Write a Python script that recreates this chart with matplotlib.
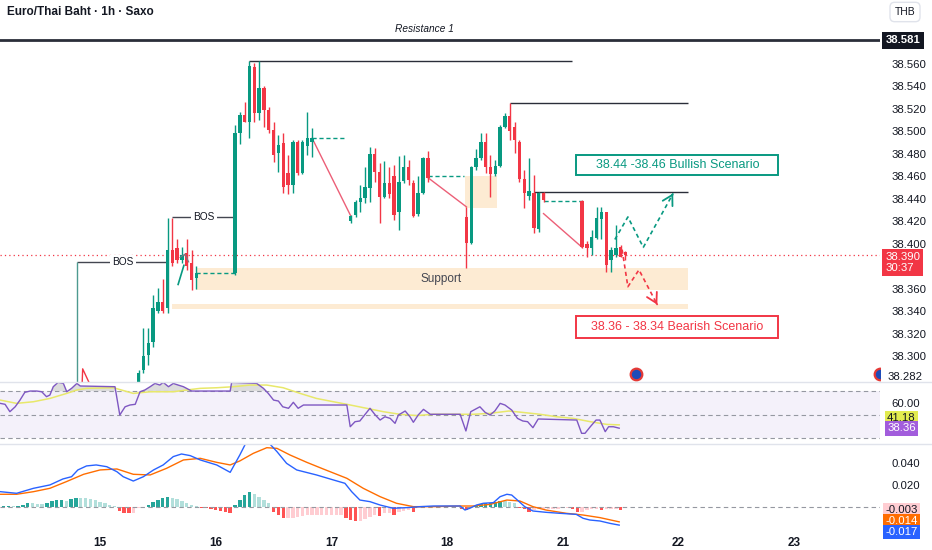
import numpy as np
import matplotlib.pyplot as plt
from matplotlib.patches import Rectangle

plt.rcParams['font.family'] = ['Liberation Sans', 'DejaVu Sans']

# hourly candles (x = trading hours since the 15th 00:00)
bar_idx = [8, 9, 10, 11, 12, 13, 14, 15, 16, 17, 18, 19, 20,
           28, 29, 30, 31, 32, 33, 34, 35, 36, 37, 38, 39, 40, 41, 42, 43, 44,
           52, 53, 54, 55, 56, 57, 58, 59, 60, 61, 62, 63, 64, 65, 66, 67, 68,
           76, 77, 78, 79, 80, 81, 82, 83, 84, 85, 86, 87, 88, 89, 90, 91, 92,
           100, 101, 102, 103, 104, 105, 106, 107, 108, 109]
opens = [38.277, 38.288, 38.301, 38.313, 38.340, 38.348, 38.343, 38.395, 38.396, 38.386, 38.392, 38.383, 38.370,
         38.374, 38.499, 38.515, 38.508, 38.557, 38.516, 38.539, 38.519, 38.501, 38.481, 38.490, 38.463, 38.452, 38.491, 38.463, 38.487, 38.491,
         38.420, 38.426, 38.437, 38.441, 38.450, 38.480, 38.464, 38.442, 38.454, 38.460, 38.428, 38.456, 38.468, 38.454, 38.427, 38.445, 38.476,
         38.424, 38.401, 38.468, 38.476, 38.491, 38.468, 38.462, 38.469, 38.504, 38.514, 38.504, 38.491, 38.458, 38.443, 38.445, 38.413, 38.445,
         38.438, 38.400, 38.396, 38.405, 38.422, 38.428, 38.386, 38.390, 38.397, 38.393]
highs = [38.288, 38.325, 38.325, 38.355, 38.361, 38.369, 38.423, 38.423, 38.404, 38.397, 38.404, 38.395, 38.380,
         38.506, 38.517, 38.526, 38.563, 38.561, 38.563, 38.540, 38.522, 38.508, 38.497, 38.499, 38.479, 38.492, 38.492, 38.492, 38.517, 38.503,
         38.426, 38.439, 38.452, 38.468, 38.486, 38.485, 38.472, 38.474, 38.468, 38.470, 38.478, 38.479, 38.475, 38.457, 38.460, 38.477, 38.483,
         38.433, 38.469, 38.484, 38.499, 38.499, 38.479, 38.475, 38.506, 38.516, 38.525, 38.508, 38.492, 38.466, 38.476, 38.461, 38.446, 38.446,
         38.439, 38.403, 38.412, 38.433, 38.433, 38.428, 38.397, 38.417, 38.399, 38.394]
lows = [38.274, 38.285, 38.292, 38.308, 38.339, 38.339, 38.339, 38.380, 38.383, 38.383, 38.377, 38.359, 38.360,
        38.372, 38.489, 38.508, 38.494, 38.508, 38.510, 38.504, 38.499, 38.473, 38.464, 38.445, 38.444, 38.445, 38.461, 38.462, 38.479, 38.477,
        38.419, 38.424, 38.428, 38.436, 38.437, 38.455, 38.419, 38.441, 38.441, 38.421, 38.412, 38.454, 38.452, 38.424, 38.425, 38.444, 38.455,
        38.379, 38.400, 38.466, 38.475, 38.463, 38.442, 38.460, 38.468, 38.503, 38.492, 38.481, 38.455, 38.432, 38.439, 38.410, 38.411, 38.437,
        38.396, 38.388, 38.390, 38.404, 38.404, 38.375, 38.375, 38.388, 38.388, 38.386]
closes = [38.285, 38.300, 38.312, 38.343, 38.348, 38.340, 38.395, 38.383, 38.386, 38.390, 38.380, 38.368, 38.374,
          38.499, 38.515, 38.508, 38.558, 38.516, 38.539, 38.519, 38.501, 38.479, 38.488, 38.451, 38.452, 38.491, 38.463, 38.491, 38.494, 38.494,
          38.425, 38.437, 38.441, 38.451, 38.480, 38.464, 38.442, 38.454, 38.444, 38.426, 38.455, 38.468, 38.457, 38.425, 38.445, 38.476, 38.459,
          38.401, 38.468, 38.476, 38.491, 38.468, 38.462, 38.469, 38.504, 38.514, 38.500, 38.492, 38.458, 38.445, 38.447, 38.414, 38.445, 38.439,
          38.397, 38.396, 38.406, 38.423, 38.428, 38.381, 38.395, 38.396, 38.388, 38.390]

# RSI(14) and its moving average, read at the line vertices
rsi_x = [-20.7, -19.7, -18.7, -17.6, -16.6, -15.6, -14.5, -13.1, -12.1, -11.1, -10.4, -9.7, -8.7, -7.6, -6.9, -5.9,
         -4.8, -4.1, 3.1, 4.1, 5.2, 6.2, 7.3, 8.3, 9.3, 10.4, 11.4, 12.4, 13.1, 14.2, 15.2, 16.2, 17.3, 19.0, 27.0,
         27.3, 32.5, 33.9, 34.9, 36.0, 37.0, 37.9, 39.1, 40.1, 41.1, 42.2, 51.2, 51.9, 52.9, 53.9, 55.0, 56.0, 57.1,
         58.1, 59.1, 60.2, 61.2, 61.9, 63.3, 64.3, 65.0, 66.0, 67.1, 68.5, 74.7, 75.9, 76.9, 78.8, 79.9, 80.9, 81.9,
         83.0, 84.0, 85.4, 86.6, 87.7, 88.7, 89.8, 90.9, 98.9, 99.9, 100.6, 101.7, 102.9, 103.7, 104.8, 105.5,
         106.5, 107.7]
rsi = [59.5, 58.7, 52.4, 56.6, 62.3, 68.9, 70.0, 70.0, 69.4, 65.2, 66.6, 73.7, 77.4, 76.5, 69.4, 72.3,
       76.5, 74.3, 73.7, 49.6, 56.6, 58.1, 58.7, 69.4, 70.9, 73.7, 76.5, 75.1, 77.4, 73.7, 76.5, 75.1, 73.7, 70.0, 70.0,
       77.4, 76.5, 72.3, 68.0, 62.3, 61.5, 56.6, 55.3, 60.4, 55.3, 58.1, 58.1, 39.6, 43.9, 44.5, 50.2, 55.3, 49.6,
       45.3, 48.1, 46.7, 42.5, 49.6, 53.0, 48.1, 43.4, 49.6, 54.4, 50.2, 50.2, 36.0, 52.4, 56.6, 51.8, 49.6, 53.0,
       59.5, 58.1, 53.8, 46.7, 44.5, 43.9, 38.8, 46.2, 45.3, 34.0, 34.0, 39.6, 45.3, 45.3, 35.4, 39.6,
       39.6, 38.36]
rsi_ma_x = [-20.7, -17.3, -13.8, -10.4, -6.9, -4.8, -2.8, 2.8, 6.9, 10.4, 15.2, 18.0, 20.8, 24.2, 27.7, 31.1,
            34.6, 38.0, 41.5, 44.9, 48.4, 51.2, 55.3, 58.8, 62.2, 65.7, 69.2, 77.4, 80.9, 84.8, 87.7, 91.3, 94.7,
            98.2, 101.7, 105.1, 107.7]
rsi_ma = [62.3, 59.5, 60.9, 63.7, 68.0, 70.9, 72.3, 72.8, 68.0, 69.4, 69.4, 70.9, 72.3, 72.8, 73.7, 75.1,
          75.1, 72.8, 68.0, 63.7, 60.9, 58.7, 55.3, 52.4, 50.2, 49.1, 50.2, 50.2, 51.0, 53.0, 51.8, 50.2, 48.1,
          46.7, 43.9, 41.6, 41.18]

# MACD(12, 26, 9)
macd_x = [-20.7, -17.3, -13.8, -10.4, -7.7, -5.9, -4.6, -2.8, -0.8, 1.4, 3.5, 4.8, 6.9, 9.0, 11.1, 13.1, 15.2,
          16.9, 18.7, 20.8, 24.2, 27.0, 29.0, 31.1, 35.3, 36.7, 38.7, 40.8, 44.9, 48.4, 50.8, 52.2, 53.9, 56.0,
          58.1, 60.8, 63.6, 66.4, 69.2, 71.9, 74.7, 75.7, 76.7, 78.1, 79.5, 81.6, 83.0, 84.4, 85.4, 86.8, 88.1,
          89.8, 92.5, 95.3, 98.8, 100.2, 101.6, 103.7, 105.8, 107.7]
macd = [0.0138, 0.0123, 0.0169, 0.0200, 0.0255, 0.0276, 0.0338, 0.0375, 0.0384, 0.0368, 0.0322, 0.0276, 0.0236,
        0.0276, 0.0338, 0.0384, 0.0461, 0.0485, 0.0470, 0.0430, 0.0384, 0.0316, 0.0476, 0.0660, 0.0574, 0.0507,
        0.0399, 0.0338, 0.0292, 0.0246, 0.0215, 0.0138, 0.0061, 0.0046, 0.0015, -0.0015, -0.0009, 0.0000,
        0.0006, 0.0006, 0.0006, -0.0031, -0.0015, 0.0015, 0.0031, 0.0037, 0.0092, 0.0114, 0.0107, 0.0052,
        0.0000, -0.0040, -0.0052, -0.0061, -0.0071, -0.0107, -0.0123, -0.0132, -0.0154, -0.0170]
signal_x = [-20.7, -17.3, -13.8, -10.4, -7.0, -3.4, 0.0, 3.5, 6.9, 10.4, 13.8, 17.3, 20.8, 24.2, 27.0, 29.0,
            31.8, 34.6, 36.7, 39.4, 42.9, 46.3, 51.2, 54.6, 58.1, 61.5, 65.0, 69.2, 74.7, 77.4, 80.9, 84.4,
            87.1, 89.8, 92.5, 96.7, 100.2, 103.7, 107.7]
signal = [0.0114, 0.0114, 0.0138, 0.0169, 0.0230, 0.0298, 0.0338, 0.0347, 0.0298, 0.0292, 0.0353, 0.0430,
          0.0445, 0.0408, 0.0384, 0.0421, 0.0491, 0.0543, 0.0537, 0.0476, 0.0408, 0.0347, 0.0261, 0.0169,
          0.0092, 0.0031, 0.0000, 0.0000, 0.0006, 0.0006, 0.0021, 0.0061, 0.0052, 0.0000, -0.0031, -0.0061,
          -0.0077, -0.0101, -0.0140]
hist_start = -20
hist = [0.0005, 0.0008, 0.0006, 0.0010, 0.0015, 0.0031, 0.0031, 0.0022, 0.0022, 0.0031,
        0.0052, 0.0058, 0.0061, 0.0055, 0.0070, 0.0083, 0.0083, 0.0077, 0.0071, 0.0058,
        0.0046, 0.0031, 0.0015, 0.0006, -0.0040, -0.0055, -0.0061, -0.0061, -0.0015, -0.0006,
        0.0015, 0.0046, 0.0061, 0.0083, 0.0089, 0.0083, 0.0071, 0.0052, 0.0037, 0.0015,
        0.0003, -0.0009, -0.0015, -0.0025, -0.0031, -0.0040, -0.0052, -0.0061, 0.0015, 0.0061,
        0.0107, 0.0132, 0.0113, 0.0092, 0.0061, 0.0031, -0.0046, -0.0077, -0.0101, -0.0101,
        -0.0101, -0.0092, -0.0083, -0.0077, -0.0077, -0.0077, -0.0077, -0.0077, -0.0077, -0.0077,
        -0.0077, -0.0107, -0.0123, -0.0132, -0.0132, -0.0113, -0.0092, -0.0077, -0.0083, -0.0061,
        -0.0061, -0.0077, -0.0046, -0.0040, -0.0031, -0.0046, -0.0015, -0.0009, -0.0006, -0.0003,
        -0.0003, 0.0000, 0.0000, -0.0003, -0.0003, -0.0025, -0.0031, -0.0009, 0.0009, 0.0021,
        0.0031, 0.0034, 0.0046, 0.0052, 0.0052, 0.0046, 0.0031, -0.0015, -0.0021, -0.0052,
        -0.0031, -0.0021, -0.0021, -0.0021, -0.0021, -0.0021, -0.0015, -0.0015, -0.0021, -0.0046,
        -0.0046, -0.0031, -0.0025, -0.0025, -0.0031, -0.0025, -0.0025, -0.0025, -0.0030]

day_ticks = [0, 24, 48, 72, 96, 120, 144]
day_labels = ['15', '16', '17', '18', '21', '22', '23']
price_ticks = [38.30, 38.32, 38.34, 38.36, 38.40, 38.42, 38.44, 38.46, 38.48, 38.50, 38.52, 38.54, 38.56]

resistance = 38.581
last_price = 38.390

UP = '#089981'
DN = '#f23645'
TXT = '#131722'
GRID = '#9598a1'
ZONE = '#fdebd3'
LBL = 8.2

W, H = 932, 550
fig = plt.figure(figsize=(W / 100, H / 100), dpi=100)


def pane(top, bottom):
    a = fig.add_axes([0, 1 - bottom / H, 880 / W, (bottom - top) / H])
    a.set_xlim(-20.75, 161.8)
    for s in a.spines.values():
        s.set_visible(False)
    a.yaxis.tick_right()
    a.tick_params(axis='y', length=0, pad=8, labelsize=LBL, labelcolor=TXT)
    a.tick_params(axis='x', length=0, bottom=False, labelbottom=False)
    return a


ax = pane(22, 382)
ax_rsi = pane(382, 444)
ax_macd = pane(444, 530)

# ---- price pane
ax.set_ylim(38.2773, 38.5973)
ax.set_yticks(price_ticks)
ax.yaxis.set_major_formatter('{x:.3f}')

o, h, l, c = map(np.array, (opens, highs, lows, closes))
col = np.where(c >= o, UP, DN)
ax.vlines(bar_idx, l, h, colors=col, lw=1, zorder=4)
ax.bar(bar_idx, np.maximum(np.abs(c - o), 0.0015), bottom=np.minimum(o, c), width=0.7, color=col, zorder=4)

# zones
ax.add_patch(Rectangle((20, 38.359), 102, 0.020, fc=ZONE, ec='none', zorder=1))
ax.add_patch(Rectangle((15, 38.342), 107, 0.005, fc=ZONE, ec='none', zorder=1))
ax.add_patch(Rectangle((75.7, 38.432), 6.7, 0.028, fc=ZONE, ec='none', zorder=1))
ax.text(70.7, 38.369, 'Support', fontsize=8.5, color='#434651', ha='center', va='center', zorder=3)

# resistance and swing levels
ax.axhline(resistance, color='#2a2e39', lw=2, zorder=3)
ax.text(67.4, 38.591, 'Resistance 1', fontsize=7.3, style='italic', color=TXT, ha='center', va='center')
ax.hlines(38.563, 31, 98, color='#2a2e39', lw=1, zorder=3)
ax.hlines(38.525, 85, 122, color='#2a2e39', lw=1, zorder=3)
ax.hlines(38.446, 90, 122, color='#2a2e39', lw=1, zorder=3)

# break of structure
ax.hlines(38.384, -4.8, 14, color='#434651', lw=1, zorder=3)
ax.vlines(-4.8, 38.25, 38.384, color='#4d9a90', lw=1, zorder=3)
ax.text(4.8, 38.384, 'BOS', fontsize=7.3, color=TXT, ha='center', va='center', zorder=3,
        bbox=dict(fc='white', ec='none', pad=1.5))
ax.hlines(38.424, 15, 28, color='#434651', lw=1, zorder=3)
ax.text(21.6, 38.424, 'BOS', fontsize=7.3, color=TXT, ha='center', va='center', zorder=3,
        bbox=dict(fc='white', ec='none', pad=1.5))
ax.plot([-3.7, -3.6, -2.3], [38.277, 38.289, 38.277], color=DN, lw=1, zorder=3)
ax.plot([16.2, 17.4], [38.364, 38.381], color=UP, lw=1.2, zorder=5)
ax.plot([16.6, 17.6, 18.4], [38.388, 38.391, 38.384], color='#787b86', lw=0.8, zorder=5)

# dashed levels and connecting lines
dash = (0, (3, 2))
ax.hlines(38.374, 20, 28, color=UP, lw=1, linestyles=dash, zorder=3)
ax.hlines(38.494, 44, 51, color=UP, lw=1, linestyles=dash, zorder=3)
ax.hlines(38.460, 68, 75.5, color=UP, lw=1, linestyles=dash, zorder=3)
ax.hlines(38.438, 92, 100, color=UP, lw=1, linestyles=dash, zorder=3)
for xs, ys in [([44, 52], [38.494, 38.425]), ([68, 76], [38.459, 38.433]), ([92, 100], [38.427, 38.397])]:
    ax.plot(xs, ys, color='#ec5f77', lw=1, zorder=3)

ax.axhline(last_price, color=DN, lw=0.9, ls=(0, (1, 2.5)), zorder=2)

# scenarios
ax.add_patch(Rectangle((98.8, 38.461), 41.9, 0.018, fc='white', ec=UP, lw=1.4, zorder=3))
ax.text(119.75, 38.470, '38.44 -38.46 Bullish Scenario', fontsize=9, color=UP, ha='center', va='center', zorder=4)
ax.add_patch(Rectangle((98.8, 38.316), 41.9, 0.020, fc='white', ec=DN, lw=1.4, zorder=3))
ax.text(119.75, 38.326, '38.36 - 38.34 Bearish Scenario', fontsize=9, color=DN, ha='center', va='center', zorder=4)

bull = [(106.8, 38.404), (109.5, 38.424), (112.7, 38.397), (118.9, 38.445)]
bear = [(108.3, 38.395), (109.5, 38.362), (111.8, 38.377), (115.6, 38.346)]
for pts, cl in [(bull, UP), (bear, DN)]:
    px, py = zip(*pts)
    ax.plot(px, py, color=cl, lw=1.2, ls=(0, (2.5, 2)), zorder=5)
    tip = np.array(pts[-1])
    back = tip - 0.08 * (tip - np.array(pts[-2]))
    ax.annotate('', xy=tip, xytext=back, zorder=5,
                arrowprops=dict(arrowstyle='->,head_length=0.7,head_width=0.4', color=cl, lw=1.3))

ax.scatter([111.2, 161.8], [38.284, 38.284], s=70, c='#1e4bb8', edgecolors='#e53935', linewidths=1.6, zorder=6)

# right-axis labels
box = 'square,pad=0.3'
ty = ax.get_yaxis_transform()
ax.text(1.006, resistance, f'{resistance:.3f}', transform=ty, fontsize=LBL, color='white', ha='left', va='center',
        fontweight='bold', bbox=dict(boxstyle=box, fc=TXT, ec='none'), clip_on=False)
ax.text(1.006, 38.3835, f'{last_price:.3f}\n30:37', transform=ty, fontsize=LBL, color='white', ha='left',
        va='center', linespacing=1.05, bbox=dict(boxstyle='square,pad=0.28', fc=DN, ec='none'), clip_on=False)
ax.text(1.009, 38.282, '38.282', transform=ty, fontsize=LBL, color=TXT, ha='left', va='center', clip_on=False)

# ---- RSI pane
ax_rsi.set_ylim(24.9, 77.7)
ax_rsi.set_yticks([60])
ax_rsi.yaxis.set_major_formatter('{x:.2f}')
ax_rsi.axhspan(30, 70, color='#7e57c2', alpha=0.08, lw=0)
for lv in (70, 50, 30):
    ax_rsi.axhline(lv, color=GRID, lw=0.8, ls=(0, (4, 3)))
rx, ry = np.array(rsi_x), np.array(rsi)
ax_rsi.fill_between(rx, ry, 70, where=ry >= 70, interpolate=True, color='#a0a0a0', alpha=0.35, lw=0)
ax_rsi.plot(rsi_ma_x, rsi_ma, color='#e8e86a', lw=1.1)
ax_rsi.plot(rx, ry, color='#7e57c2', lw=1)
tr = ax_rsi.get_yaxis_transform()
ax_rsi.text(1.008, 47.0, f'{rsi_ma[-1]:.2f}', transform=tr, fontsize=LBL, color=TXT, ha='left', va='center',
            bbox=dict(boxstyle='square,pad=0.22', fc='#e2eb4f', ec='none'), clip_on=False)
ax_rsi.text(1.008, 38.5, f'{rsi[-1]:.2f}', transform=tr, fontsize=LBL, color='white', ha='left', va='center',
            bbox=dict(boxstyle='square,pad=0.22', fc='#a25ddc', ec='none'), clip_on=False)

# ---- MACD pane
ax_macd.set_ylim(-0.0215, 0.0577)
ax_macd.set_yticks([0.02, 0.04])
ax_macd.yaxis.set_major_formatter('{x:.3f}')
ax_macd.axhline(0, color=GRID, lw=0.8, ls=(0, (4, 3)))
hv = np.array(hist)
prev = np.concatenate([[0], hv[:-1]])
hcol = np.where(hv >= 0, np.where(hv > prev, '#26a69a', '#b2dfdb'), np.where(hv < prev, '#ff5252', '#ffcdd2'))
ax_macd.bar(np.arange(hist_start, hist_start + len(hv)), hv, width=0.7, color=hcol)
ax_macd.plot(signal_x, signal, color='#ff6d00', lw=1)
ax_macd.plot(macd_x, macd, color='#2962ff', lw=1)
tm = ax_macd.get_yaxis_transform()
ax_macd.text(1.006, -0.003, f'{hist[-1]:.3f}', transform=tm, fontsize=LBL, color=TXT, ha='left', va='center',
             bbox=dict(boxstyle='square,pad=0.2', fc='#ffcdd2', ec='none'), clip_on=False)
ax_macd.text(1.006, -0.0132, f'{signal[-1]:.3f}', transform=tm, fontsize=LBL, color='white', ha='left',
             va='center', bbox=dict(boxstyle='square,pad=0.2', fc='#ff6d00', ec='none'), clip_on=False)
ax_macd.text(1.006, -0.0235, f'{macd[-1]:.3f}', transform=tm, fontsize=LBL, color='white', ha='left',
             va='center', bbox=dict(boxstyle='square,pad=0.2', fc='#2962ff', ec='none'), clip_on=False)
ax_macd.set_xticks(day_ticks, day_labels)
ax_macd.tick_params(axis='x', labelbottom=True, pad=5, labelsize=8.5, labelcolor=TXT)
for t in ax_macd.get_xticklabels():
    t.set_fontweight('bold')

# pane separators, header
for yy in (382, 444):
    fig.add_artist(plt.Line2D([0, 1], [1 - yy / H] * 2, color='#e0e3eb', lw=1))
fig.text(7 / W, 1 - 12 / H, 'Euro/Thai Baht · 1h · Saxo', fontsize=8.5, fontweight='bold', color=TXT, va='center')
fig.text(905 / W, 1 - 12 / H, 'THB', fontsize=7.5, color=TXT, ha='center', va='center',
         bbox=dict(boxstyle='round,pad=0.45', fc='white', ec='#e0e3eb'))

fig.savefig('out.png', dpi=100)
